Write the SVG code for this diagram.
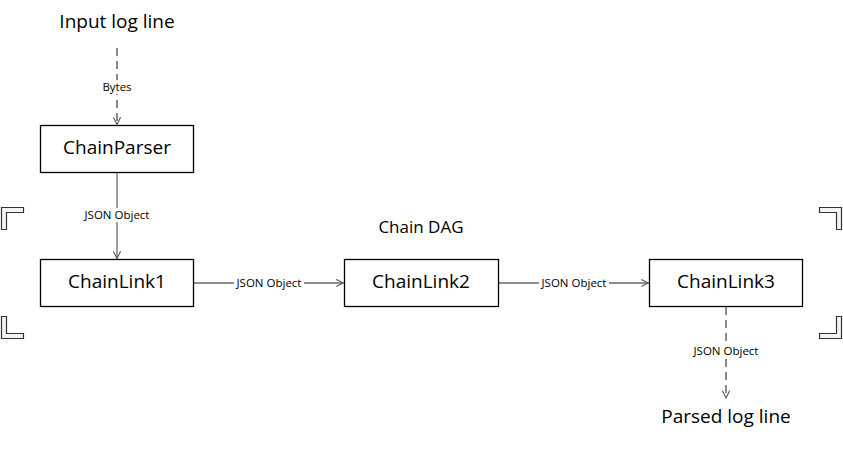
<svg xmlns="http://www.w3.org/2000/svg" width="843" height="449" viewBox="0 0 843 449">
<style>
.box{fill:#fff;stroke:#000;stroke-width:1.3}
.lbl{font-family:"Open Sans","Noto Sans",sans-serif;font-size:19px;fill:#000;text-anchor:middle}
.big{font-family:"Open Sans","Noto Sans",sans-serif;font-size:19px;fill:#000;text-anchor:middle}
.sm{font-family:"Open Sans","Noto Sans",sans-serif;font-size:11.5px;fill:#000;text-anchor:middle}
.dag{font-family:"Open Sans","Noto Sans",sans-serif;font-size:17px;fill:#000;text-anchor:middle}
.ln{stroke:#6a6a6a;stroke-width:1.3;fill:none}
.dash{stroke:#4a4a4a;stroke-dasharray:8 5}
.bk{fill:#f4f4f4;stroke:#333;stroke-width:1.2}
.bg{fill:#fff}
</style>
<defs>
<marker id="ah" viewBox="0 0 10 10" refX="9" refY="5" markerWidth="9" markerHeight="9" markerUnits="userSpaceOnUse" orient="auto">
<path d="M1,1 L9,5 L1,9" fill="none" stroke="#555" stroke-width="1.2"/>
</marker>
</defs>
<g id="brackets">
<path class="bk" d="M1.5,207.5 H23.5 V212.5 H6.5 V229.5 H1.5 Z"/>
<path class="bk" d="M841.5,207.5 H819.5 V212.5 H836.5 V229.5 H841.5 Z"/>
<path class="bk" d="M1.5,338.5 H23.5 V333.5 H6.5 V316.5 H1.5 Z"/>
<path class="bk" d="M841.5,338.5 H819.5 V333.5 H836.5 V316.5 H841.5 Z"/>
</g>
<g id="connectors">
<line class="ln dash" x1="117" y1="48" x2="117" y2="124.5" marker-end="url(#ah)"/>
<rect class="bg" x="100" y="80" width="34" height="14"/>
<text class="sm" x="117" y="91">Bytes</text>
<line class="ln" x1="117" y1="173" x2="117" y2="258.5" marker-end="url(#ah)"/>
<rect class="bg" x="82" y="208" width="70" height="14"/>
<text class="sm" x="117" y="219">JSON Object</text>
<line class="ln" x1="194" y1="283" x2="343.5" y2="283" marker-end="url(#ah)"/>
<rect class="bg" x="234" y="276" width="70" height="14"/>
<text class="sm" x="269" y="287">JSON Object</text>
<line class="ln" x1="499" y1="283" x2="648.5" y2="283" marker-end="url(#ah)"/>
<rect class="bg" x="539" y="276" width="70" height="14"/>
<text class="sm" x="574" y="287">JSON Object</text>
<line class="ln dash" x1="726" y1="307" x2="726" y2="398" marker-end="url(#ah)"/>
<rect class="bg" x="691" y="344" width="70" height="14"/>
<text class="sm" x="726" y="355">JSON Object</text>
</g>
<g id="input"><text class="big" x="117" y="28">Input log line</text></g>
<g id="chainparser"><rect class="box" x="40.5" y="125.5" width="153" height="47"/><text class="lbl" x="117" y="154">ChainParser</text></g>
<g id="dag"><text class="dag" x="421" y="233">Chain DAG</text></g>
<g id="chainlink1"><rect class="box" x="40.5" y="259.5" width="153" height="47"/><text class="lbl" x="117" y="288">ChainLink1</text></g>
<g id="chainlink2"><rect class="box" x="344.5" y="259.5" width="154" height="47"/><text class="lbl" x="421" y="288">ChainLink2</text></g>
<g id="chainlink3"><rect class="box" x="649.5" y="259.5" width="153" height="47"/><text class="lbl" x="726" y="288">ChainLink3</text></g>
<g id="output"><text class="big" x="726" y="423">Parsed log line</text></g>
</svg>
